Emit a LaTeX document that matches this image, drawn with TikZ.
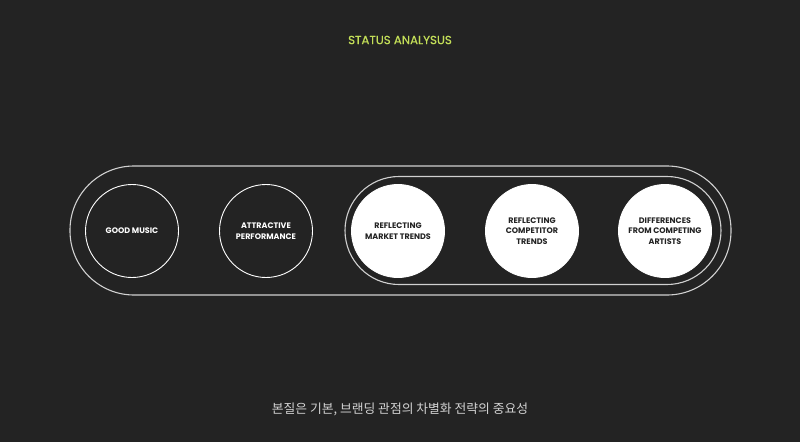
\documentclass[tikz,border=0pt]{standalone}
\usepackage{fontspec}
\setmainfont{Poppins}
\newfontfamily\krfont{Noto Sans CJK KR}
\newfontfamily\titlefont[FakeBold=0.6]{Poppins}
\definecolor{bg}{HTML}{232323}
\definecolor{lime}{HTML}{C3DE58}
\definecolor{rim}{HTML}{D0D0D0}
\tikzset{
  ring/.style={circle,draw=white,line width=0.9pt,minimum size=93pt,inner sep=0pt,
    text=white,align=center,font=\bfseries\fontsize{8}{10.5}\selectfont},
  disc/.style={ring,fill=white,text=bg},
  track/.style={draw=rim,line width=1.1pt,rounded corners=#1},
}
\begin{document}
\begin{tikzpicture}[x=1pt,y=-1pt]
	\fill[bg] (0,0) rectangle (800,442);
	\useasboundingbox (0,0) rectangle (800,442);
	\node[text=lime,font=\titlefont\fontsize{11.8}{13}\selectfont] (title) at (400,40) {STATUS ANALYSUS};
	% outer and inner tracks
	\draw[track=64pt] (70,166) rectangle (731,295);
	\draw[track=54pt] (345,176.5) rectangle (721,284.5);
	% circles
	\node[ring] (music) at (132,231) {GOOD MUSIC};
	\node[ring] (perf) at (266,231) {ATTRACTIVE\\PERFORMANCE};
	\node[disc] (market) at (398,231) {REFLECTING\\MARKET TRENDS};
	\node[disc] (rival) at (532,231) {REFLECTING\\COMPETITOR\\TRENDS};
	\node[disc] (diff) at (665,231) {DIFFERENCES\\FROM COMPETING\\ARTISTS};
	\node[text=white!80!bg,font=\krfont\fontsize{12.8}{15}\selectfont] (note) at (400,409) {본질은 기본, 브랜딩 관점의 차별화 전략의 중요성};
\end{tikzpicture}
\end{document}
